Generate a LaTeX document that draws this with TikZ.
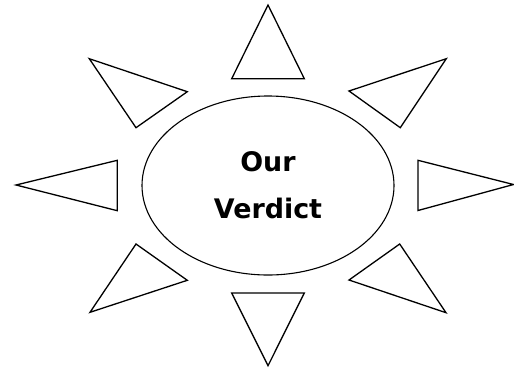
\documentclass[tikz,border=0pt]{standalone}
\usepackage{fontspec}
\setsansfont{DejaVu Sans}
\usetikzlibrary{shapes.geometric}

\begin{document}
\begin{tikzpicture}[x=1bp, y=-1bp, line join=miter,
  ray/.style={draw, line width=1.3bp},
  ring/.style={ellipse, draw, line width=1.1bp, inner sep=0pt,
               minimum width=252bp, minimum height=179bp}]
\useasboundingbox (0,0) rectangle (514,368);

% centre
\node[ring, font=\sffamily\bfseries\fontsize{27}{47}\selectfont, align=center]
  (verdict) at (268,185.5) {Our\\Verdict};

% rays
\foreach \ax/\ay/\bx/\by/\cx/\cy in {
    268/5/304.3/78.7/231.7/78.7,          % top
    446.3/58.7/400.3/127.7/349/91,        % top right
    513.5/184.5/418/210.5/418/160.3,      % right
    446/312.7/349/280/399.7/244,          % bottom right
    268/365.7/231.7/293/304.3/293,        % bottom
    90/312.3/136/244/187.3/280.3,         % bottom left
    16/185/117.3/160.3/117.3/210.7,       % left
    89.3/58.7/187.3/91.7/136/127.7}       % top left
  \draw[ray] (\ax,\ay) -- (\bx,\by) -- (\cx,\cy) -- cycle;
\end{tikzpicture}
\end{document}
